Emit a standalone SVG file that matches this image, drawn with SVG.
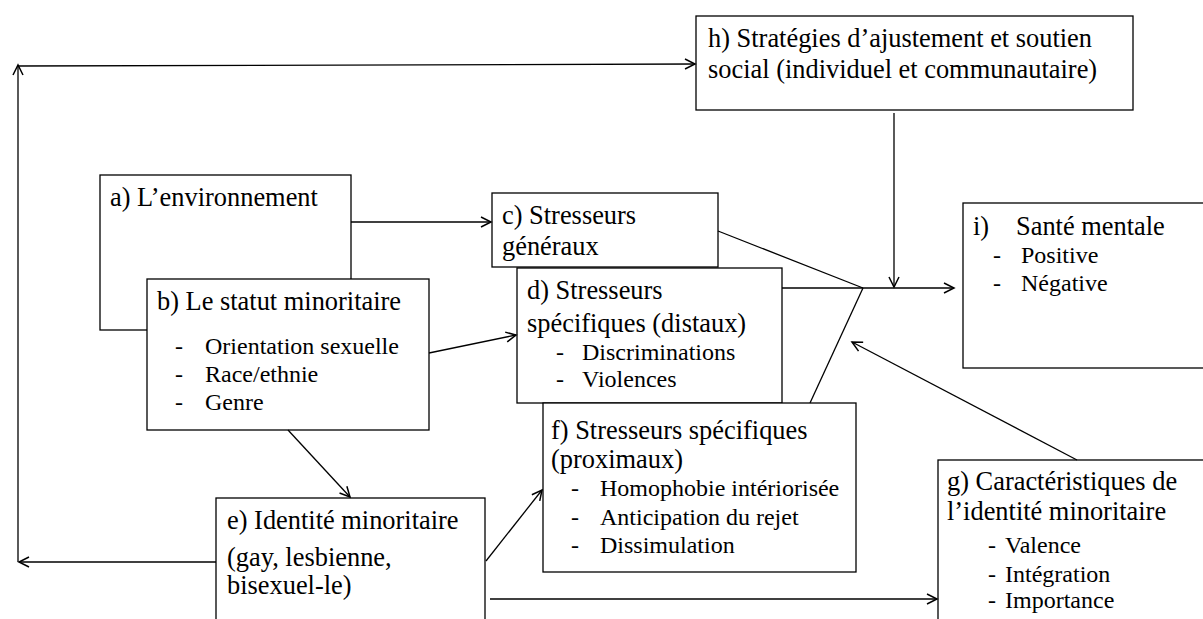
<svg xmlns="http://www.w3.org/2000/svg" width="1203" height="619" viewBox="0 0 1203 619">
<defs>
<style>
rect.box{fill:#fff;stroke:#000;stroke-width:1.3}
text{font-family:"Liberation Serif","Times New Roman",serif;fill:#000}
text.m{font-size:26.4px}
text.l{font-size:24px}
.c line{stroke:#000;stroke-width:1.3;fill:none}
.arr{marker-end:url(#ah)}
</style>
<marker id="ah" markerUnits="userSpaceOnUse" viewBox="-12 -7 14 14" markerWidth="14" markerHeight="14" refX="0" refY="0" orient="auto">
<path d="M-10,-5 L0,0 L-10,5" fill="none" stroke="#000" stroke-width="1.5"/>
</marker>
</defs>
<rect width="1203" height="619" fill="#fff"/>

<g id="node-h">
<rect class="box" x="696" y="16" width="437" height="94"/>
<text class="m" x="708" y="47">h) Stratégies d’ajustement et soutien</text>
<text class="m" x="708" y="78">social (individuel et communautaire)</text>
</g>

<g id="node-a">
<rect class="box" x="100" y="175" width="251" height="155"/>
<text class="m" x="110" y="206">a) L’environnement</text>
</g>

<g id="node-b">
<rect class="box" x="147" y="279" width="282" height="151"/>
<text class="m" x="157" y="310">b) Le statut minoritaire</text>
<text class="l" x="175" y="354">-</text>
<text class="l" x="175" y="382">-</text>
<text class="l" x="175" y="410">-</text>
<text class="l" x="205" y="354">Orientation sexuelle</text>
<text class="l" x="205" y="382">Race/ethnie</text>
<text class="l" x="205" y="410">Genre</text>
</g>

<g id="node-c">
<rect class="box" x="492" y="193" width="226" height="74"/>
<text class="m" x="502" y="224">c) Stresseurs</text>
<text class="m" x="502" y="255">généraux</text>
</g>

<g id="node-d">
<rect class="box" x="517" y="268" width="265" height="135"/>
<text class="m" x="527" y="299">d) Stresseurs</text>
<text class="m" x="527" y="332">spécifiques (distaux)</text>
<text class="l" x="556" y="360">-</text>
<text class="l" x="556" y="387">-</text>
<text class="l" x="582" y="360">Discriminations</text>
<text class="l" x="582" y="387">Violences</text>
</g>

<g id="node-f">
<rect class="box" x="543" y="403" width="313" height="169"/>
<text class="m" x="551" y="439">f) Stresseurs spécifiques</text>
<text class="m" x="551" y="468">(proximaux)</text>
<text class="l" x="571" y="496">-</text>
<text class="l" x="571" y="525">-</text>
<text class="l" x="571" y="553">-</text>
<text class="l" x="600" y="496">Homophobie intériorisée</text>
<text class="l" x="600" y="525">Anticipation du rejet</text>
<text class="l" x="600" y="553">Dissimulation</text>
</g>

<g id="node-e">
<rect class="box" x="216" y="498" width="269" height="140"/>
<text class="m" x="227" y="529">e) Identité minoritaire</text>
<text class="m" x="227" y="566">(gay, lesbienne,</text>
<text class="m" x="227" y="594">bisexuel-le)</text>
</g>

<g id="node-i">
<rect class="box" x="963" y="203" width="250" height="165"/>
<text class="m" x="973" y="235">i)</text>
<text class="m" x="1016" y="235">Santé mentale</text>
<text class="l" x="993" y="263">-</text>
<text class="l" x="993" y="291">-</text>
<text class="l" x="1021" y="263">Positive</text>
<text class="l" x="1021" y="291">Négative</text>
</g>

<g id="node-g">
<rect class="box" x="938" y="460" width="280" height="180"/>
<text class="m" x="947" y="490">g) Caractéristiques de</text>
<text class="m" x="947" y="520">l’identité minoritaire</text>
<text class="l" x="988" y="553">-</text>
<text class="l" x="988" y="582">-</text>
<text class="l" x="988" y="608">-</text>
<text class="l" x="1005" y="553">Valence</text>
<text class="l" x="1005" y="582">Intégration</text>
<text class="l" x="1005" y="608">Importance</text>
</g>

<g id="connectors" class="c">
<line class="arr" x1="351" y1="222" x2="491" y2="222"/>
<line class="arr" x1="429" y1="353" x2="516" y2="335"/>
<line class="arr" x1="288" y1="430" x2="350" y2="497"/>
<line class="arr" x1="486" y1="561" x2="542" y2="490"/>
<line class="arr" x1="490" y1="599" x2="937" y2="599"/>
<line class="arr" x1="216" y1="562" x2="19" y2="562"/>
<line class="arr" x1="18" y1="562" x2="18" y2="65"/>
<line class="arr" x1="18" y1="66" x2="695" y2="64"/>
<line class="arr" x1="894" y1="113" x2="894" y2="287"/>
<line x1="718" y1="231" x2="863" y2="288"/>
<line x1="782" y1="288" x2="863" y2="288"/>
<line x1="810" y1="403" x2="863" y2="288"/>
<line class="arr" x1="863" y1="288" x2="954" y2="288"/>
<line class="arr" x1="1077" y1="460" x2="852" y2="342"/>
</g>
</svg>
